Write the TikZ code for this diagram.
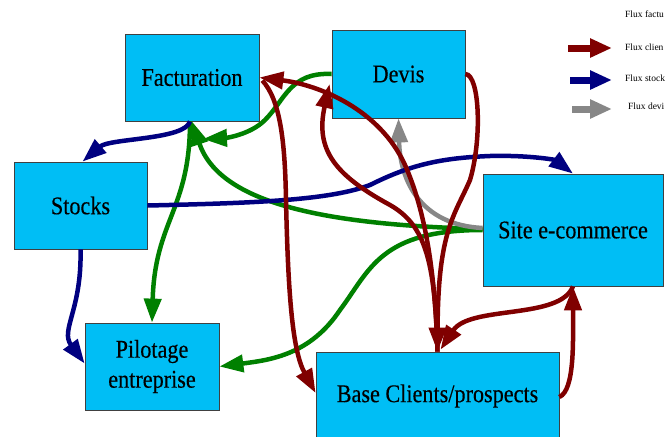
\documentclass[tikz,border=0pt]{standalone}
\usepackage{fontspec}
\setmainfont{Liberation Serif}
\newfontfamily\boxfont[FakeBold=0.3]{Liberation Serif}
\usetikzlibrary{arrows.meta,calc}
\definecolor{boxfill}{RGB}{0,190,245}
\definecolor{fred}{RGB}{128,0,0}
\definecolor{fblue}{RGB}{0,0,128}
\definecolor{fgreen}{RGB}{0,128,0}
\definecolor{fgray}{RGB}{135,135,135}
\newcommand{\sq}[1]{\scalebox{0.87}[1]{#1}}
\tikzset{
  boxnode/.style={draw=black!75, line width=0.8pt, fill=boxfill, rectangle, inner sep=0pt,
    font=\boxfont\fontsize{25.5}{30}\selectfont, align=center},
  flowarrow/.style={line width=4.5pt, -{Triangle[length=24pt,width=17pt]}},
  legarrow/.style={line width=7pt, -{Triangle[length=22pt,width=18pt]}},
  legtext/.style={anchor=west, inner sep=0pt, font=\fontsize{9.5}{10}\selectfont}
}
\begin{document}
\begin{tikzpicture}[x=1pt,y=-1pt]
\useasboundingbox (0,0) rectangle (665,437);
\fill[white] (0,0) rectangle (665,437);
% boxes
\node[boxnode, minimum width=134pt, minimum height=87pt] (fact) at (192,77.5) {\sq{Facturation}};
\node[boxnode, minimum width=133pt, minimum height=88pt] (devis) at (398.5,74) {\sq{Devis}};
\node[boxnode, minimum width=133pt, minimum height=87pt] (stocks) at (80.5,205.5) {\sq{Stocks}};
\node[boxnode, minimum width=180pt, minimum height=112pt] (site) at (573,230) {\sq{Site e-commerce}};
\node[boxnode, minimum width=134pt, minimum height=87pt] (pilot) at (152,366.5) {\sq{Pilotage}\\\sq{entreprise}};
\node[boxnode, minimum width=243pt, minimum height=88pt] (base) at (437.5,396) {\sq{Base Clients/prospects}};
\coordinate (g4end) at (203,139);
% green
\draw[flowarrow, fgreen] (devis.west) .. controls (290,72) and (285,100) .. (265,120)
   .. controls (250,135) and (225,138) .. (g4end);
\draw[flowarrow, fgreen] ($(site.west)+(0,-1)$) .. controls (330,225) and (220,205) .. (fact.south);
\draw[flowarrow, fgreen] ($(fact.south)+(-2,0)$) .. controls (190,210) and (155,220) .. (pilot.north);
\draw[flowarrow, fgreen] (site.west) .. controls (380,230) and (370,270) .. (340,310)
   .. controls (310,355) and (270,360) .. (pilot.east);
% gray
\draw[flowarrow, fgray] ($(site.west)+(0,-2)$) .. controls (420,225) and (400,180) .. (devis.south);
% blue
\draw[flowarrow, fblue] ($(fact.south)+(-2,0)$) .. controls (185,140) and (110,138) .. ($(stocks.north)+(2,0)$);
\draw[flowarrow, fblue] (stocks.east) .. controls (260,203) and (330,200) .. (370,185)
   .. controls (410,165) and (440,158) .. (490,156)
   .. controls (530,155) and (555,160) .. (site.north);
\draw[flowarrow, fblue] (stocks.south) .. controls (82,310) and (60,330) .. ($(pilot.west)+(0,-3)$);
% red
\draw[flowarrow, fred] (base.north) .. controls (435,270) and (425,210) .. (405,165)
   .. controls (380,110) and (320,85) .. (fact.east);
\draw[flowarrow, fred] ($(fact.east)+(3,3)$) .. controls (280,100) and (285,140) .. (286,200)
   .. controls (288,290) and (292,350) .. ($(base.west)+(0,-3)$);
\draw[flowarrow, fred] (base.north) .. controls (435,260) and (425,225) .. (390,205)
   .. controls (335,175) and (315,150) .. ($(devis.west)+(-2,10)$);
\draw[flowarrow, fred] (devis.east) .. controls (480,75) and (482,140) .. (470,180)
   .. controls (455,215) and (438,230) .. (base.north);
\draw[flowarrow, fred] (site.south) .. controls (560,320) and (470,305) .. ($(base.north)+(3,-2)$);
\draw[flowarrow, fred] ($(base.east)+(0,1)$) .. controls (575,390) and (573,340) .. (site.south);
% legend
\coordinate (l1a) at (568,48); \coordinate (l1b) at (612,48);
\coordinate (l2a) at (570,80); \coordinate (l2b) at (612,80);
\coordinate (l3a) at (572,109); \coordinate (l3b) at (612,109);
\draw[legarrow, fred] (l1a) -- (l1b);
\draw[legarrow, fblue] (l2a) -- (l2b);
\draw[legarrow, fgray] (l3a) -- (l3b);
\node[legtext] (t0) at (625,14) {Flux factu};
\node[legtext] (t1) at (625,47) {Flux clien};
\node[legtext] (t2) at (625,78) {Flux stock};
\node[legtext] (t3) at (628,106) {Flux devi};
\end{tikzpicture}
\end{document}
